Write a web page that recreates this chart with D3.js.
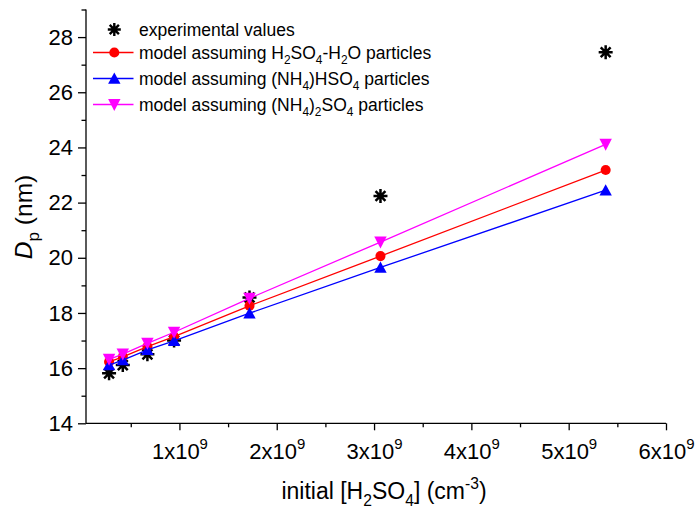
<!DOCTYPE html>
<html>
<head>
<meta charset="utf-8">
<script src="https://cdn.jsdelivr.net/npm/d3@7"></script>
<style>
  body { margin: 0; background: #fff; }
  text { font-family: "Liberation Sans", Arial, sans-serif; fill: #000; }
</style>
</head>
<body>
<svg id="chart" width="698" height="508"></svg>
<script>
// values (x in units of 1e9 cm^-3, Dp in nm)
const conc       = [0.277, 0.418, 0.671, 0.945, 1.72, 3.066, 5.38];
const experiment = [15.81, 16.11, 16.50, 17.00, 18.56, 22.24, 27.45];
const h2so4_h2o  = [16.23, 16.41, 16.78, 17.14, 18.26, 20.06, 23.18];
const nh4hso4    = [16.11, 16.29, 16.66, 16.99, 17.99, 19.65, 22.45];
const nh42so4    = [16.32, 16.51, 16.90, 17.30, 18.53, 20.57, 24.11];

const series_names = [
  "experimental values",
  "model assuming H_2SO_4-H_2O particles",
  "model assuming (NH_4)HSO_4 particles",
  "model assuming (NH_4)_2SO_4 particles"
];

const x_ticks = [1, 2, 3, 4, 5, 6];
const x_minor = [0.5, 1.5, 2.5, 3.5, 4.5, 5.5];
const y_ticks = [14, 16, 18, 20, 22, 24, 26, 28];
const y_minor = [15, 17, 19, 21, 23, 25, 27, 29];

const width = 698, height = 508;
const plot = {left: 86, right: 666, top: 9.5, bottom: 423.3};
const tick_font = 22;
const legend_font = 17.5;

const svg = d3.select('#chart');

const x = d3.scaleLinear().domain([0.04, 6]).range([plot.left, plot.right]);
const y = d3.scaleLinear().domain([14, 29]).range([plot.bottom, plot.top]);

// model series, in drawing order
const models = [
  {name: series_names[1], values: h2so4_h2o, color: "#ff0000", symbol: "circle"},
  {name: series_names[2], values: nh4hso4,   color: "#0000ff", symbol: "up"},
  {name: series_names[3], values: nh42so4,   color: "#ff00ff", symbol: "down"}
];

// ===============================================================
// Axes
const x_axis = svg.append('g')
  .attr('transform', `translate(0,${plot.bottom})`)
  .call(d3.axisBottom(x).tickValues(x_ticks).tickSize(7).tickSizeOuter(0))
  .call(style_axis);

x_axis.select('.domain').attr('d', `M${plot.left},0H${plot.right}`);

x_axis.selectAll('.tick text')
  .attr('y', 36)
  .attr('dy', 0)
  .text('')
  .each(function(d){ rich_text(d3.select(this), `${d}x10^9`, tick_font); });

svg.append('g')
  .attr('transform', `translate(0,${plot.bottom})`)
  .call(d3.axisBottom(x).tickValues(x_minor).tickSize(4).tickFormat(''))
  .call(style_axis)
  .call(g => g.select('.domain').remove());

const y_axis = svg.append('g')
  .attr('transform', `translate(${plot.left},0)`)
  .call(d3.axisLeft(y).tickValues(y_ticks).tickSize(8).tickPadding(5).tickSizeOuter(0))
  .call(style_axis);

y_axis.select('.domain').attr('d', `M0,${plot.top}V${plot.bottom}`);
y_axis.selectAll('.tick text').style('font-size', tick_font + 'px');

svg.append('g')
  .attr('transform', `translate(${plot.left},0)`)
  .call(d3.axisLeft(y).tickValues(y_minor).tickSize(4.5).tickFormat(''))
  .call(style_axis)
  .call(g => g.select('.domain').remove());

// axis titles
rich_text(svg.append('text')
  .attr('x', 384)
  .attr('y', 499)
  .attr('text-anchor', 'middle'), "initial [H_2SO_4] (cm^{-3})", 23);

const title_font = 24.5;
const y_title = svg.append('text')
  .attr('transform', `translate(32,217) rotate(-90)`)
  .attr('text-anchor', 'middle')
  .style('font-size', title_font + 'px');
y_title.append('tspan').style('font-style', 'italic').text('D');
y_title.append('tspan').attr('dy', title_font*0.28).style('font-size', (title_font*0.7) + 'px').text('p');
y_title.append('tspan').attr('dy', -title_font*0.28).text(' (nm)');

// ===============================================================
// Model lines + markers
const line = d3.line()
  .x((d, i) => x(conc[i]))
  .y(d => y(d));

const data_g = svg.append('g');

data_g.append('g')
  .selectAll('.star')
  .data(experiment)
  .enter().append('path')
    .attr('transform', (d, i) => `translate(${x(conc[i])},${y(d)})`)
    .attr('d', star_path(7))
    .attr('stroke', '#000')
    .attr('stroke-width', 2.5)
    .attr('fill', 'none');

models.forEach(m => {
  const mg = data_g.append('g');
  mg.append('path')
    .attr('d', line(m.values))
    .attr('fill', 'none')
    .attr('stroke', m.color)
    .attr('stroke-width', 1.3);
  mg.selectAll('.marker')
    .data(m.values)
    .enter().append('path')
      .attr('transform', (d, i) => `translate(${x(conc[i])},${y(d)})`)
      .attr('d', symbol_path(m.symbol))
      .attr('fill', m.color);
});

// ===============================================================
// Legend
const legend_rows = [29.5, 52.5, 78.5, 104.5];
const legend = svg.append('g');

legend.append('path')
  .attr('transform', `translate(114.3,${legend_rows[0]})`)
  .attr('d', star_path(6.5))
  .attr('stroke', '#000')
  .attr('stroke-width', 2.4)
  .attr('fill', 'none');

models.forEach((m, i) => {
  const row = legend_rows[i + 1];
  legend.append('line')
    .attr('x1', 93).attr('x2', 133.5)
    .attr('y1', row).attr('y2', row)
    .attr('stroke', m.color)
    .attr('stroke-width', 1.3);
  legend.append('path')
    .attr('transform', `translate(114.3,${row})`)
    .attr('d', symbol_path(m.symbol))
    .attr('fill', m.color);
});

series_names.forEach((name, i) => {
  rich_text(legend.append('text')
    .attr('x', 139)
    .attr('y', legend_rows[i] + 6.5), name, legend_font);
});

// ===============================================================
function style_axis(g) {
  g.selectAll('.domain, .tick line')
    .attr('stroke', '#000')
    .attr('stroke-width', 1.3);
  g.selectAll('.tick text')
    .attr('fill', '#000')
    .style('font-family', '"Liberation Sans", Arial, sans-serif');
}

// "_x" or "_{..}" -> subscript, "^x" or "^{..}" -> superscript
function rich_text(sel, str, size) {
  const parts = str.split(/([_^](?:\{[^}]*\}|.))/).filter(s => s.length);
  let shift = 0;
  sel.style('font-size', size + 'px');
  parts.forEach(p => {
    let mode = 0, t = p;
    if (p[0] === '_') { mode = 1; t = p.slice(1); }
    else if (p[0] === '^') { mode = -1; t = p.slice(1); }
    t = t.replace(/[{}]/g, '');
    const target = mode === 1 ? size*0.3 : mode === -1 ? -size*0.45 : 0;
    sel.append('tspan')
      .attr('dy', target - shift)
      .style('font-size', (mode ? size*0.68 : size) + 'px')
      .text(t);
    shift = target;
  });
}

function star_path(r) {
  const d = r * Math.SQRT1_2;
  return `M0,${-r}V${r}M${-r},0H${r}M${-d},${-d}L${d},${d}M${-d},${d}L${d},${-d}`;
}

function symbol_path(kind) {
  if (kind === 'circle') return d3.symbol(d3.symbolCircle, 80)();
  const s = 6.2, hu = 5.2, hd = 5.6;
  if (kind === 'up') return `M0,${-hu - 0.8}L${s},${hu}L${-s},${hu}Z`;
  return `M0,${hd + 0.8}L${s},${-hd}L${-s},${-hd}Z`;
}
</script>
</body>
</html>
